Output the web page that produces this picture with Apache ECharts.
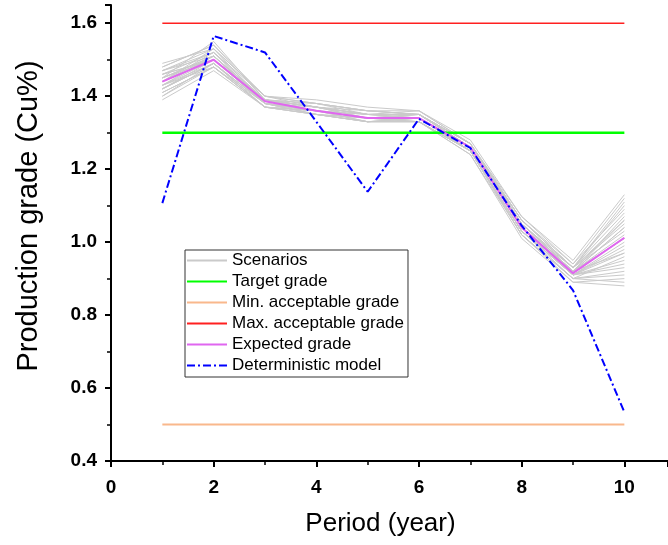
<!DOCTYPE html>
<html>
<head>
<meta charset="utf-8">
<script src="https://cdn.jsdelivr.net/npm/echarts@6/dist/echarts.min.js"></script>
<style>
  html, body { margin: 0; padding: 0; background: #fff; }
  #chart { width: 668px; height: 545px; }
</style>
</head>
<body>
<div id="chart"></div>
<script>
// periods (year)
const periods = [1, 2, 3, 4, 5, 6, 7, 8, 9, 10]

// simulated scenarios (read off the grey bundle)
const scenarios = [
  [1.45, 1.51, 1.39, 1.37, 1.35, 1.35, 1.27, 1.05, 0.92, 1.04],
  [1.42, 1.49, 1.38, 1.36, 1.34, 1.34, 1.25, 1.03, 0.91, 0.98],
  [1.47, 1.53, 1.40, 1.38, 1.36, 1.35, 1.26, 1.06, 0.93, 1.10],
  [1.40, 1.48, 1.37, 1.35, 1.33, 1.33, 1.25, 1.02, 0.90, 0.92],
  [1.44, 1.50, 1.39, 1.36, 1.34, 1.34, 1.26, 1.04, 0.92, 1.01],
  [1.48, 1.54, 1.39, 1.37, 1.35, 1.35, 1.27, 1.07, 0.94, 1.12],
  [1.43, 1.49, 1.38, 1.35, 1.33, 1.34, 1.25, 1.03, 0.91, 0.95],
  [1.46, 1.52, 1.40, 1.37, 1.36, 1.35, 1.26, 1.05, 0.92, 1.06],
  [1.41, 1.48, 1.37, 1.36, 1.34, 1.33, 1.24, 1.01, 0.89, 0.88],
  [1.45, 1.55, 1.39, 1.38, 1.35, 1.36, 1.27, 1.06, 0.93, 1.08],
  [1.39, 1.47, 1.37, 1.35, 1.33, 1.33, 1.25, 1.02, 0.90, 0.89],
  [1.44, 1.51, 1.38, 1.36, 1.35, 1.34, 1.26, 1.04, 0.91, 1.00],
  [1.46, 1.50, 1.39, 1.37, 1.34, 1.35, 1.26, 1.05, 0.93, 1.05],
  [1.42, 1.50, 1.38, 1.36, 1.34, 1.34, 1.25, 1.03, 0.92, 0.97],
  [1.49, 1.53, 1.40, 1.39, 1.37, 1.36, 1.28, 1.07, 0.95, 1.13],
  [1.43, 1.48, 1.38, 1.35, 1.33, 1.34, 1.26, 1.04, 0.91, 0.93],
  [1.47, 1.52, 1.39, 1.37, 1.35, 1.35, 1.27, 1.05, 0.92, 1.07],
  [1.40, 1.49, 1.37, 1.36, 1.34, 1.33, 1.25, 1.02, 0.89, 0.90],
  [1.45, 1.51, 1.39, 1.36, 1.35, 1.34, 1.26, 1.04, 0.93, 1.03],
  [1.44, 1.52, 1.38, 1.37, 1.34, 1.35, 1.26, 1.05, 0.92, 1.02],
  [1.42, 1.49, 1.38, 1.36, 1.33, 1.33, 1.25, 1.03, 0.90, 0.96],
  [1.46, 1.50, 1.39, 1.38, 1.36, 1.35, 1.27, 1.06, 0.94, 1.09],
  [1.43, 1.51, 1.38, 1.35, 1.34, 1.34, 1.25, 1.03, 0.91, 0.99],
  [1.48, 1.54, 1.40, 1.38, 1.36, 1.36, 1.27, 1.06, 0.93, 1.11],
  [1.41, 1.48, 1.37, 1.36, 1.33, 1.34, 1.26, 1.04, 0.91, 0.94],
  [1.45, 1.50, 1.39, 1.37, 1.35, 1.34, 1.26, 1.04, 0.92, 1.01],
  [1.44, 1.53, 1.38, 1.36, 1.34, 1.35, 1.26, 1.05, 0.93, 1.06],
  [1.42, 1.49, 1.37, 1.35, 1.34, 1.33, 1.24, 1.02, 0.90, 0.91],
  [1.47, 1.51, 1.39, 1.37, 1.35, 1.35, 1.27, 1.05, 0.92, 1.04],
  [1.43, 1.50, 1.38, 1.36, 1.34, 1.34, 1.25, 1.03, 0.91, 0.97]
]

const expectedGrade = [1.44, 1.50, 1.386, 1.36, 1.34, 1.34, 1.26, 1.04, 0.915, 1.012]
const deterministic = [1.107, 1.565, 1.52, 1.33, 1.138, 1.338, 1.258, 1.045, 0.868, 0.534]

const targetGrade = 1.3
const minGrade = 0.5
const maxGrade = 1.6

const yTicks = [0.4, 0.6, 0.8, 1.0, 1.2, 1.4, 1.6]
const xTicks = [0, 2, 4, 6, 8, 10]

const chart = echarts.init(document.getElementById('chart'))

const font = "'Liberation Sans', Arial, sans-serif"

function pairs(values) {
  return periods.map((p, i) => [p, values[i]])
}

function flat(v) {
  return [[periods[0], v], [periods[periods.length - 1], v]]
}

const series = scenarios.map(s => ({
  name: 'Scenarios',
  type: 'line',
  symbol: 'none',
  silent: true,
  data: pairs(s),
  lineStyle: { color: '#cacaca', width: 1 },
  itemStyle: { color: '#cacaca' },
  z: 1
}))

series.push(
  {
    name: 'Target grade',
    type: 'line',
    symbol: 'none',
    data: flat(targetGrade),
    lineStyle: { color: '#00ff00', width: 2.5 },
    itemStyle: { color: '#00ff00' },
    z: 3
  },
  {
    name: 'Min. acceptable grade',
    type: 'line',
    symbol: 'none',
    data: flat(minGrade),
    lineStyle: { color: '#f9b88c', width: 2 },
    itemStyle: { color: '#f9b88c' },
    z: 3
  },
  {
    name: 'Max. acceptable grade',
    type: 'line',
    symbol: 'none',
    data: flat(maxGrade),
    lineStyle: { color: '#ff2020', width: 1.5 },
    itemStyle: { color: '#ff2020' },
    z: 3
  },
  {
    name: 'Expected grade',
    type: 'line',
    symbol: 'none',
    data: pairs(expectedGrade),
    lineStyle: { color: '#e066f0', width: 2 },
    itemStyle: { color: '#e066f0' },
    z: 4
  },
  {
    name: 'Deterministic model',
    type: 'line',
    symbol: 'none',
    data: pairs(deterministic),
    lineStyle: { color: '#0000ff', width: 2, type: [8, 3, 2, 3] },
    itemStyle: { color: '#0000ff' },
    z: 5
  }
)

const axisCommon = {
  type: 'value',
  axisLine: { show: true, onZero: false, lineStyle: { color: '#000', width: 2 } },
  axisTick: { show: true, inside: false, length: 6, lineStyle: { color: '#000', width: 2 } },
  minorTick: { show: true, splitNumber: 2, length: 4, lineStyle: { color: '#000', width: 1.5 } },
  splitLine: { show: false }
}

chart.setOption({
  animation: false,
  backgroundColor: '#fff',
  grid: { left: 111, right: 0, top: 5, bottom: 84 },
  legend: {
    data: ['Scenarios', 'Target grade', 'Min. acceptable grade', 'Max. acceptable grade', 'Expected grade', 'Deterministic model'],
    orient: 'vertical',
    left: 185,
    top: 250,
    itemWidth: 40,
    itemHeight: 14,
    itemGap: 4,
    padding: [2, 4, 3, 1],
    borderColor: '#333',
    borderWidth: 1,
    backgroundColor: '#fff',
    itemStyle: { opacity: 0 },
    textStyle: { fontFamily: font, fontSize: 17, color: '#000' }
  },
  xAxis: {
    ...axisCommon,
    min: 0,
    max: 10.85,
    interval: 2,
    name: 'Period (year)',
    nameLocation: 'middle',
    nameGap: 50,
    nameTextStyle: { fontFamily: font, fontSize: 26, color: '#000', padding: [0, 18, 0, 0] },
    axisLabel: {
      margin: 17,
      fontFamily: font,
      fontSize: 19,
      fontWeight: 'bold',
      color: '#000',
      showMaxLabel: false,
      formatter: v => (xTicks.includes(v) ? String(v) : '')
    }
  },
  yAxis: {
    ...axisCommon,
    min: 0.4,
    max: 1.65,
    interval: 0.2,
    name: 'Production grade (Cu%)',
    nameLocation: 'middle',
    nameGap: 68,
    nameTextStyle: { fontFamily: font, fontSize: 29, color: '#000', padding: [0, 0, 0, 34] },
    axisLabel: {
      margin: 14,
      fontFamily: font,
      fontSize: 19,
      fontWeight: 'bold',
      color: '#000',
      showMaxLabel: false,
      formatter: v => {
        const t = yTicks.find(y => Math.abs(y - v) < 1e-6)
        return t === undefined ? '' : t.toFixed(1)
      }
    }
  },
  series
})
</script>
</body>
</html>
